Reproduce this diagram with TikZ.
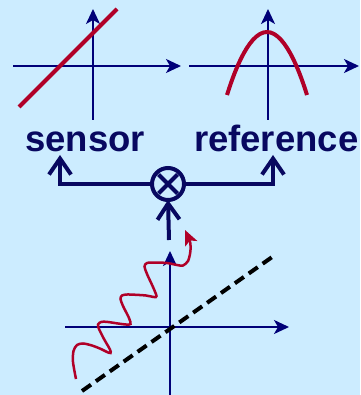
\documentclass[tikz,border=0pt]{standalone}
\usepackage{fontspec}
\setmainfont{Liberation Sans}
\usetikzlibrary{arrows.meta}
\definecolor{bgblue}{RGB}{204,236,255}
\definecolor{axisnavy}{RGB}{0,0,120}
\definecolor{inknavy}{RGB}{8,8,96}
\definecolor{curvered}{RGB}{176,0,40}
\tikzset{
  axis/.style={draw=axisnavy, line width=2pt, -{Stealth[length=15pt,width=14pt,inset=4pt]}},
  curve/.style={draw=curvered, line width=4pt},
  conn/.style={draw=inknavy, line width=4pt, -{Straight Barb[length=16pt,width=22pt]}},
  label/.style={text=inknavy, font=\bfseries\fontsize{36.5}{40}\selectfont, inner sep=0pt, outer sep=0pt},
  mixer/.style={circle, draw=inknavy, line width=4pt, minimum size=32pt, inner sep=0pt, outer sep=0pt},
}
\begin{document}
\begin{tikzpicture}[x=1pt,y=-1pt]
\useasboundingbox (0,0) rectangle (360,395);
\fill[bgblue] (0,0) rectangle (360,395);

% top-left plot
\draw[axis] (13,66) -- (181,66);
\draw[axis] (93,120) -- (93,9);
\draw[curve] (19,107) -- (117,9);

% top-right plot
\draw[axis] (189,66) -- (359,66);
\draw[axis] (268,120) -- (268,9);
\draw[curve] (227,95) parabola bend (267,32) (307,95);

% labels
\node[label, anchor=base] (s) at (85,152) {sensor};
\node[label, anchor=base west] (r) at (194,152) {reference};

% mixer
\node[mixer] (m) at (168,184) {};
\draw[draw=inknavy, line width=4pt] (m.center) +(-9.5,-9.5) -- +(9.5,9.5);
\draw[draw=inknavy, line width=4pt] (m.center) +(-9.5,9.5) -- +(9.5,-9.5);

\coordinate (sTip) at (60,155);
\coordinate (rTip) at (273,155);
\coordinate (stub) at (169,240);
\draw[conn] (m.west) -| (sTip);
\draw[conn] (m.east) -| (rTip);
\draw[conn] (stub) -- (m.south);

% bottom plot
\draw[axis] (65,327) -- (289,327);
\draw[axis] (170,396) -- (170,251);
\draw[black, line width=4pt, dash pattern=on 11pt off 6pt] (82,391) -- (275,255);
\draw[draw=curvered, line width=2.5pt, -{Stealth[length=15pt,width=13pt,inset=3.5pt]}]
  plot[smooth, tension=0.5] coordinates {
  (76,379) (73,362) (73.5,351) (77,345) (83,343.5) (92,345.5) (101,349) (107,352)
  (110.5,353) (110,349.5) (104,339) (99,329) (98,324.5) (101.5,321.8) (108,322)
  (118,323.5) (126,324.5) (130.5,324) (129,318) (123,306) (120.5,299) (122,295.5)
  (127,294.5) (136,294.8) (146,295.5) (154,297) (156.5,296) (153,287) (147,274)
  (144.5,266.5) (147,263) (155,262.5) (167,263) (177,265) (183,265.5) (188,261)
  (190.3,252) (190.3,243) (185,230)};
\end{tikzpicture}
\end{document}
